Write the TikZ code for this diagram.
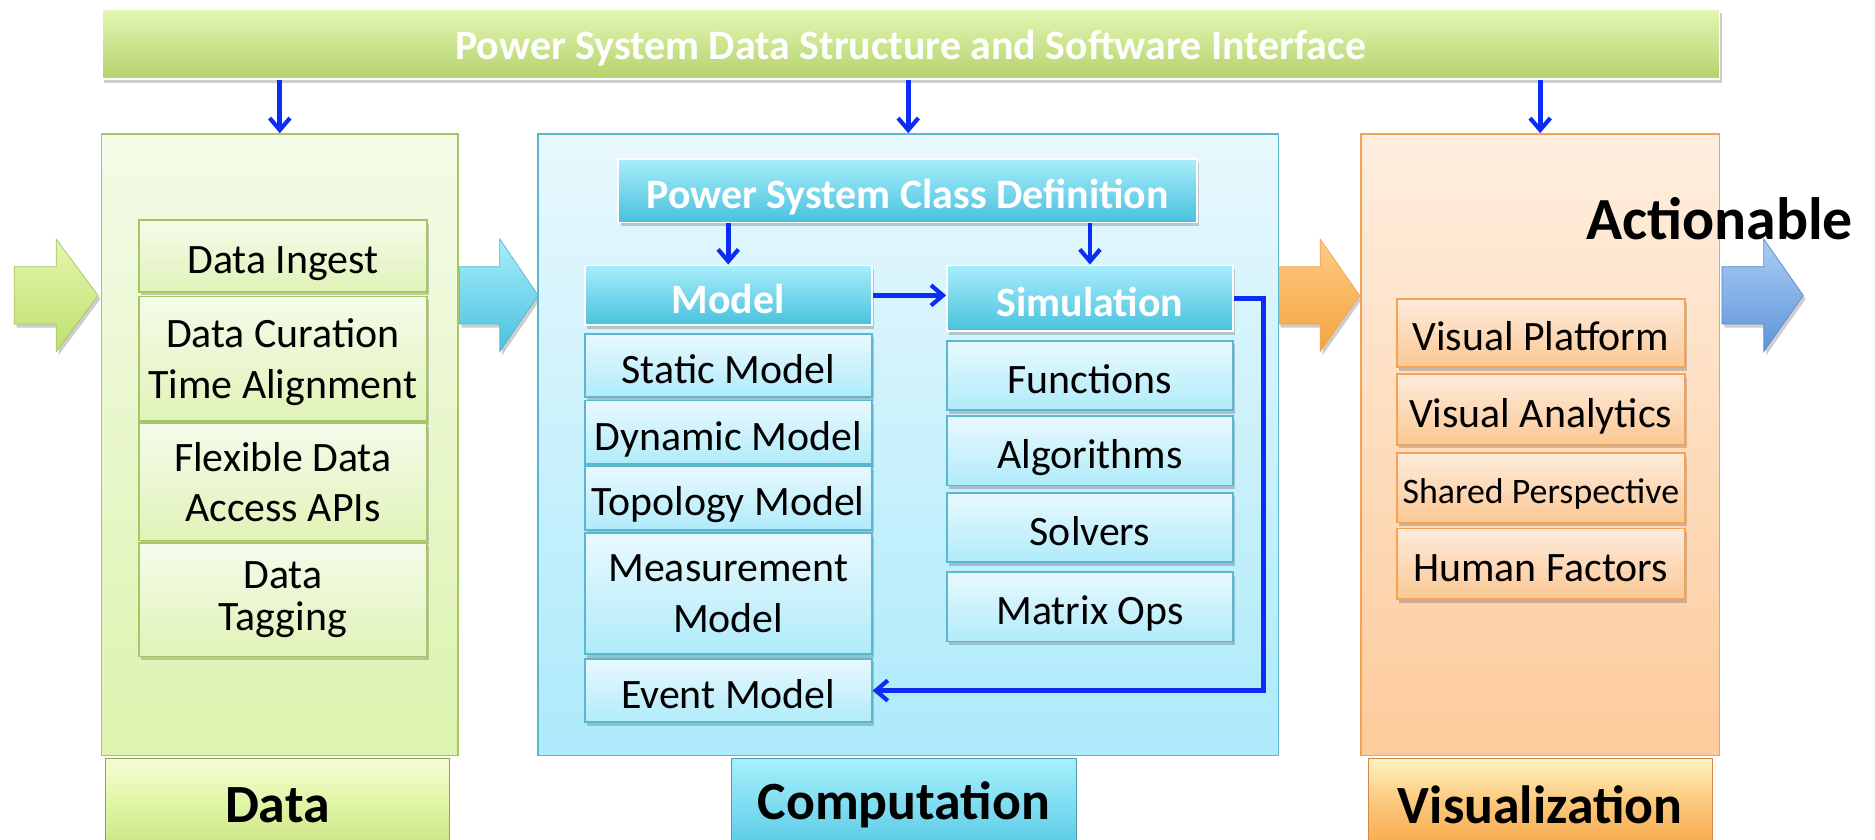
\documentclass[tikz,border=0pt]{standalone}
\usepackage{fontspec}
\setmainfont{Carlito}
\usetikzlibrary{shadows,arrows.meta,calc}
\definecolor{barTop}{HTML}{E3F7B4}
\definecolor{barBot}{HTML}{B4D26C}
\definecolor{gBoxTop}{HTML}{F4FBE8}
\definecolor{gBoxBot}{HTML}{DDF3AE}
\definecolor{gBorder}{HTML}{A6C565}
\definecolor{gItemTop}{HTML}{F5FBEA}
\definecolor{gItemBot}{HTML}{E0F3B8}
\definecolor{gTabTop}{HTML}{F6FCD4}
\definecolor{gTabMid}{HTML}{DFF5A4}
\definecolor{gTabBot}{HTML}{C8E282}
\definecolor{gArrTop}{HTML}{E2F6AC}
\definecolor{gArrBot}{HTML}{BFE070}
\definecolor{cBoxTop}{HTML}{E8F8FD}
\definecolor{cBoxBot}{HTML}{ADEAFB}
\definecolor{cBorder}{HTML}{5BB6CF}
\definecolor{cHeadTop}{HTML}{A8EDFA}
\definecolor{cHeadBot}{HTML}{48C1DE}
\definecolor{cItemTop}{HTML}{E9F9FE}
\definecolor{cItemBot}{HTML}{B0EBFA}
\definecolor{cTabTop}{HTML}{A8F0FC}
\definecolor{cTabBot}{HTML}{56C9E5}
\definecolor{oBoxTop}{HTML}{FEEEDF}
\definecolor{oBoxBot}{HTML}{FDCB9B}
\definecolor{oBorder}{HTML}{F5A255}
\definecolor{oItemTop}{HTML}{FEEBDC}
\definecolor{oItemBot}{HTML}{FBC894}
\definecolor{oTabTop}{HTML}{FFF3C2}
\definecolor{oTabBot}{HTML}{F8A746}
\definecolor{oArrTop}{HTML}{FDCB86}
\definecolor{oArrBot}{HTML}{F5A43C}
\definecolor{bArrTop}{HTML}{AACDF4}
\definecolor{bArrBot}{HTML}{5E94D8}
\definecolor{bBorder}{HTML}{5A8CCB}
\definecolor{connBlue}{HTML}{0C2DF2}
\newcommand\myItemFont{\fontsize{35}{42.5}\selectfont}
\newcommand\mySmallFont{\fontsize{30}{36}\selectfont}
\newcommand\myHeadFont{\bfseries\fontsize{35}{42}\selectfont}
\newcommand\myTabFont{\bfseries\fontsize{45}{52}\selectfont}
\tikzset{
  softshadow/.style={drop shadow={opacity=0.28,shadow xshift=2pt,shadow yshift=-3pt,fill=black!70}},
  basebox/.style={rectangle, inner sep=1pt, align=center, anchor=center},
  oneline/.style={text height=30pt, text depth=0pt},
  twoline/.style={text depth=0pt},
  topbar/.style={basebox, draw=white, line width=1.5pt, top color=barTop, bottom color=barBot, text=white, font=\myHeadFont, softshadow, text height=25pt, text depth=0pt},
  databox/.style={basebox, draw=gBorder, line width=1.2pt, top color=gBoxTop, bottom color=gBoxBot},
  compbox/.style={basebox, draw=cBorder, line width=1.2pt, top color=cBoxTop, bottom color=cBoxBot},
  visbox/.style={basebox, draw=oBorder, line width=1.2pt, top color=oBoxTop, bottom color=oBoxBot},
  dataitem/.style={basebox, draw=gBorder, line width=1.5pt, top color=gItemTop, bottom color=gItemBot, font=\myItemFont, softshadow},
  compitem/.style={basebox, draw=cBorder, line width=1.5pt, top color=cItemTop, bottom color=cItemBot, font=\myItemFont, softshadow},
  visitem/.style={basebox, draw=oBorder, line width=1.5pt, top color=oItemTop, bottom color=oItemBot, font=\myItemFont, softshadow},
  header/.style={basebox, draw=white, line width=1.5pt, top color=cHeadTop, bottom color=cHeadBot, text=white, font=\myHeadFont, softshadow, oneline},
  datatab/.style={basebox, draw=gBorder!85!black, line width=0.8pt, top color=gTabTop, bottom color=gTabBot, middle color=gTabMid, font=\myTabFont},
  comptab/.style={basebox, draw=cBorder!85!black, line width=0.8pt, top color=cTabTop, bottom color=cTabBot, font=\myTabFont},
  vistab/.style={basebox, draw=oBorder!85!black, line width=0.8pt, top color=oTabTop, bottom color=oTabBot, middle color=oTabBot!60!oTabTop, font=\myTabFont},
  conn/.style={draw=connBlue, line width=4pt, -{Straight Barb[length=10pt,width=17pt,line width=3.5pt]}},
  blockarrow/.style={line width=0.6pt, softshadow}
}
\begin{document}
\begin{tikzpicture}[x=1pt,y=-1pt]
\clip (0,0) rectangle (1568,702);
\fill[white] (0,0) rectangle (1568,702);

% block arrows
\shade[blockarrow, draw=gBorder, top color=gArrTop, bottom color=gArrBot]
  (12,223) -- (47,223) -- (47,200) -- (82,247) -- (47,294) -- (47,271) -- (12,271) -- cycle;
\shade[blockarrow, draw=cBorder, top color=cHeadTop, bottom color=cHeadBot]
  (384,223) -- (418,223) -- (418,200) -- (450,247) -- (418,294) -- (418,271) -- (384,271) -- cycle;
\shade[blockarrow, draw=oBorder, top color=oArrTop, bottom color=oArrBot]
  (1069,223) -- (1104,223) -- (1104,200) -- (1137,247) -- (1104,294) -- (1104,271) -- (1069,271) -- cycle;
\shade[blockarrow, draw=bBorder, top color=bArrTop, bottom color=bArrBot]
  (1440,223) -- (1475,223) -- (1475,200) -- (1508,247) -- (1475,294) -- (1475,271) -- (1440,271) -- cycle;

% top bar
\node[topbar, minimum width=1353pt, minimum height=58pt] (top) at (761.5,37) {Power System Data Structure and Software Interface};

% main boxes
\node[databox, minimum width=298pt, minimum height=520pt] (data) at (234,372) {};
\node[compbox, minimum width=619pt, minimum height=520pt] (comp) at (759.5,372) {};
\node[visbox, minimum width=300pt, minimum height=520pt] (vis) at (1288,372) {};

% tabs
\node[datatab, minimum width=288pt, minimum height=78pt] (datatab) at (232,673) {Data};
\node[comptab, minimum width=288pt, minimum height=78pt] (comptab) at (756,673) {Computation};
\node[vistab, minimum width=288pt, minimum height=78pt] (vistab) at (1288,673) {Visualization};

% data items
\node[dataitem, oneline, minimum width=241pt, minimum height=60pt] (ingest) at (236.5,214) {Data Ingest};
\node[dataitem, twoline, minimum width=241pt, minimum height=104pt] (curation) at (236.5,300) {Data Curation\\Time Alignment};
\node[dataitem, twoline, minimum width=241pt, minimum height=98pt] (access) at (236.5,403) {Flexible Data\\Access APIs};
\node[dataitem, minimum width=241pt, minimum height=95pt] (tagging) at (236.5,501.5) {Data\\[-8pt]Tagging};

% computation
\node[header, minimum width=484pt, minimum height=53pt] (pscd) at (759,159.5) {Power System Class Definition};
\node[header, minimum width=240pt, minimum height=50pt] (model) at (609,247) {Model};
\node[header, minimum width=239pt, minimum height=55pt] (sim) at (911.5,249.5) {Simulation};

\node[compitem, oneline, minimum width=240pt, minimum height=53pt] (static) at (609,305.5) {Static Model};
\node[compitem, oneline, minimum width=240pt, minimum height=53pt] (dynamic) at (609,361.5) {Dynamic Model};
\node[compitem, oneline, minimum width=240pt, minimum height=53pt] (topology) at (609,416.5) {Topology Model};
\node[compitem, minimum width=240pt, minimum height=101pt, text depth=-5pt] (measure) at (609,496.5) {Measurement\\Model};
\node[compitem, oneline, minimum width=240pt, minimum height=53pt] (event) at (609,577.5) {Event Model};

\node[compitem, oneline, minimum width=239pt, minimum height=58pt] (functions) at (911.5,314) {Functions};
\node[compitem, oneline, minimum width=239pt, minimum height=58pt] (algorithms) at (911.5,377) {Algorithms};
\node[compitem, oneline, minimum width=239pt, minimum height=58pt] (solvers) at (911.5,441) {Solvers};
\node[compitem, oneline, minimum width=239pt, minimum height=58pt] (matrix) at (911.5,507.5) {Matrix Ops};

% visualization items
\node[visitem, oneline, minimum width=241pt, minimum height=57pt] (platform) at (1288.5,278.5) {Visual Platform};
\node[visitem, oneline, minimum width=241pt, minimum height=59pt] (analytics) at (1288.5,342.5) {Visual Analytics};
\node[visitem, minimum width=241pt, minimum height=58pt, font=\mySmallFont, text height=26pt, text depth=0pt] (shared) at (1288.5,408) {Shared Perspective};
\node[visitem, oneline, minimum width=241pt, minimum height=59pt] (human) at (1288.5,471.5) {Human Factors};

\node[font=\bfseries\fontsize{50}{60}\selectfont, inner sep=0pt] (act) at (1438,183) {Actionable};

% connectors
\draw[conn] (top.south -| data.north) -- (data.north);
\draw[conn] (top.south -| comp.north) -- (comp.north);
\draw[conn] (top.south -| vis.north) -- (vis.north);
\draw[conn] (pscd.south -| model.north) -- (model.north);
\draw[conn] (pscd.south -| sim.north) -- (sim.north);
\draw[conn] (model.east) -- (model.east -| sim.west);
\draw[conn] (sim.east) -- ++(25,0) |- (event.east);
\end{tikzpicture}
\end{document}
